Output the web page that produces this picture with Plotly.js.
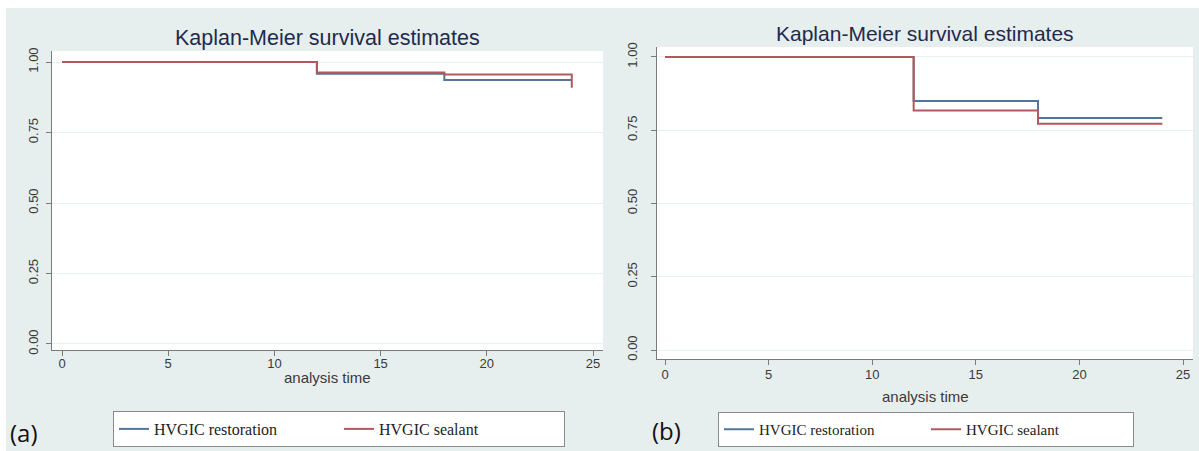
<!DOCTYPE html>
<html>
<head>
<meta charset="utf-8">
<script src="https://cdn.plot.ly/plotly-3.0.1.min.js"></script>
<style>
html,body{margin:0;padding:0;background:#ffffff;width:1199px;height:451px;overflow:hidden;}
#chart{position:absolute;left:6px;top:8px;width:1193px;height:443px;}
</style>
</head>
<body>
<div id="chart"></div>
<script>
// ---- Data ----
const seriesNames = ["HVGIC restoration", "HVGIC sealant"];
// Panel (a)
const timeA_restoration = [0, 12, 18, 24];
const survA_restoration = [1.000, 0.958, 0.936, 0.936];
const timeA_sealant = [0, 12, 18, 24, 24];
const survA_sealant = [1.000, 0.963, 0.956, 0.956, 0.909];
// Panel (b)
const timeB_restoration = [0, 12, 18, 24];
const survB_restoration = [1.000, 0.850, 0.792, 0.792];
const timeB_sealant = [0, 12, 18, 24];
const survB_sealant = [1.000, 0.817, 0.772, 0.772];
// Axis ticks
const xTicks = [0, 5, 10, 15, 20, 25];
const yTicks = [0, 0.25, 0.5, 0.75, 1];
const yTickText = ["0.00", "0.25", "0.50", "0.75", "1.00"];
const chartTitle = "Kaplan-Meier survival estimates";
const xTitle = "analysis time";
const panelLabels = ["(a)", "(b)"];

const BLUE = "#53759b";
const RED = "#b3585e";

const traces = [
  {x: timeA_restoration, y: survA_restoration, name: seriesNames[0], type: "scatter", mode: "lines",
   line: {shape: "hv", color: BLUE, width: 2}, xaxis: "x", yaxis: "y", legend: "legend"},
  {x: timeA_sealant, y: survA_sealant, name: seriesNames[1], type: "scatter", mode: "lines",
   line: {shape: "hv", color: RED, width: 2}, xaxis: "x", yaxis: "y", legend: "legend"},
  {x: timeB_restoration, y: survB_restoration, name: seriesNames[0], type: "scatter", mode: "lines",
   line: {shape: "hv", color: BLUE, width: 2}, xaxis: "x2", yaxis: "y2", legend: "legend2"},
  {x: timeB_sealant, y: survB_sealant, name: seriesNames[1], type: "scatter", mode: "lines",
   line: {shape: "hv", color: RED, width: 2}, xaxis: "x2", yaxis: "y2", legend: "legend2"}
];

const tickFont = {family: "Liberation Sans, Arial, sans-serif", size: 13, color: "#3a3a3a"};
const axTitleFont = {family: "Liberation Sans, Arial, sans-serif", size: 15, color: "#3a3a3a"};
const W = 1193, H = 443;

function xAxis(domain, range, standoff) {
  return {
    domain: domain, range: range, tickvals: xTicks, ticktext: xTicks.map(String),
    showline: true, linecolor: "#7a7a7a", linewidth: 1,
    ticks: "outside", ticklen: 5, tickcolor: "#7a7a7a", tickwidth: 1,
    showgrid: false, zeroline: false, tickfont: tickFont, ticklabelstandoff: standoff,
    fixedrange: true, automargin: false
  };
}
function yAxis(domain, range, anchor, standoff) {
  return {
    domain: domain, range: range, anchor: anchor, tickvals: yTicks, ticktext: yTickText,
    tickangle: -90, showline: true, linecolor: "#7a7a7a", linewidth: 1,
    ticks: "outside", ticklen: 5, tickcolor: "#7a7a7a", tickwidth: 1,
    showgrid: true, gridcolor: "#e8eff0", gridwidth: 1, zeroline: false,
    tickfont: tickFont, ticklabelstandoff: standoff, fixedrange: true,
    automargin: false
  };
}

const legendCommon = {
  orientation: "h", xanchor: "left", yanchor: "top",
  bgcolor: "#ffffff", bordercolor: "#8a8a8a", borderwidth: 1,
  itemclick: false, itemdoubleclick: false, entrywidthmode: "pixels"
};
const serif = "Liberation Serif, Times New Roman, serif";

const layout = {
  width: W, height: H,
  margin: {l: 0, r: 0, t: 0, b: 0, autoexpand: false},
  paper_bgcolor: "#e7eeee",
  plot_bgcolor: "#ffffff",
  showlegend: true,
  xaxis: xAxis([46 / W, 597 / W], [-0.471, 25.47], -4),
  yaxis: yAxis([1 - 342 / H, 1 - 43 / H], [-0.0213, 1.039], "x", 3),
  xaxis2: Object.assign(xAxis([651 / W, 1187 / W], [-0.386, 25.48], -2), {anchor: "y2"}),
  yaxis2: yAxis([1 - 351 / H, 1 - 39 / H], [-0.0307, 1.034], "x2", 9),
  legend: Object.assign({}, legendCommon, {x: 107 / W, y: 1 - 403 / H, entrywidth: 180,
    font: {family: serif, size: 16, color: "#222222"}}),
  legend2: Object.assign({}, legendCommon, {x: 712 / W, y: 1 - 404 / H, entrywidth: 162,
    font: {family: serif, size: 15, color: "#222222"}}),
  annotations: [
    {text: chartTitle, xref: "paper", yref: "paper", x: 321 / W, y: 1 - 30 / H,
     xanchor: "center", yanchor: "middle", showarrow: false,
     font: {family: "Liberation Sans, Arial, sans-serif", size: 21.5, color: "#1e2b4e"}},
    {text: chartTitle, xref: "paper", yref: "paper", x: 919 / W, y: 1 - 25 / H,
     xanchor: "center", yanchor: "middle", showarrow: false,
     font: {family: "Liberation Sans, Arial, sans-serif", size: 21, color: "#1e2b4e"}},
    {text: xTitle, xref: "paper", yref: "paper", x: 321 / W, y: 1 - 369 / H,
     xanchor: "center", yanchor: "middle", showarrow: false, font: axTitleFont},
    {text: xTitle, xref: "paper", yref: "paper", x: 919 / W, y: 1 - 388 / H,
     xanchor: "center", yanchor: "middle", showarrow: false, font: axTitleFont},
    {text: panelLabels[0], xref: "paper", yref: "paper", x: 18 / W, y: 1 - 424 / H,
     xanchor: "center", yanchor: "middle", showarrow: false,
     font: {family: "Open Sans, Liberation Sans, sans-serif", size: 24, color: "#111111"}},
    {text: panelLabels[1], xref: "paper", yref: "paper", x: 660 / W, y: 1 - 422 / H,
     xanchor: "center", yanchor: "middle", showarrow: false,
     font: {family: "Open Sans, Liberation Sans, sans-serif", size: 24, color: "#111111"}}
  ]
};

Plotly.newPlot("chart", traces, layout, {displayModeBar: false, staticPlot: true});
</script>
</body>
</html>
